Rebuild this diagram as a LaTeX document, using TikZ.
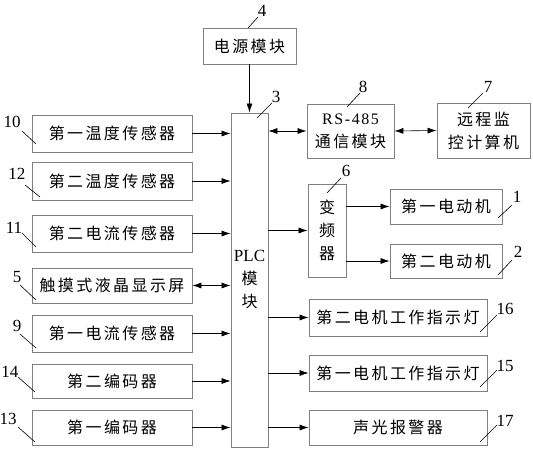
\documentclass[tikz,border=0pt]{standalone}
\usepackage{fontspec}
\setmainfont{Liberation Serif}
\newfontfamily\latn{Liberation Serif}[LetterSpace=10]
\newfontfamily\cjk{Noto Sans CJK SC}[LetterSpace=15]
\usetikzlibrary{arrows.meta}

\tikzset{
  blk/.style={draw=black!50, line width=0.9pt, inner sep=0pt, align=center,
    font=\cjk\fontsize{16}{23}\selectfont},
  lnk/.style={line width=0.6pt, -{Latex[length=9pt,width=6pt]}},
  dlnk/.style={line width=0.6pt, {Latex[length=9pt,width=6pt]}-{Latex[length=9pt,width=6pt]}},
  num/.style={inner sep=0pt, font=\fontsize{17}{17}\selectfont},
  lead/.style={line width=0.6pt},
}

\begin{document}
\begin{tikzpicture}[x=1pt,y=-1pt]
  \useasboundingbox (0,0) rectangle (533,450);
  % centre block
  \node[blk, minimum width=37, minimum height=334] (plc) at (249.5,280) {{\rmfamily\fontsize{17}{23}\selectfont PLC}\\模\\块};
  \node[blk, minimum width=93, minimum height=36] (pwr) at (249.5,46) {电源模块};
  % left column
  \node[blk, minimum width=160, minimum height=37] (t1) at (112,133.5) {第一温度传感器};
  \node[blk, minimum width=160, minimum height=38] (t2) at (112,181) {第二温度传感器};
  \node[blk, minimum width=160, minimum height=37] (c2) at (112,233.5) {第二电流传感器};
  \node[blk, minimum width=160, minimum height=35] (lcd) at (112,285.5) {触摸式液晶显示屏};
  \node[blk, minimum width=160, minimum height=37] (c1) at (112,333.5) {第一电流传感器};
  \node[blk, minimum width=160, minimum height=34] (e2) at (112,381) {第二编码器};
  \node[blk, minimum width=160, minimum height=35] (e1) at (112,427.5) {第一编码器};
  % right column
  \node[blk, minimum width=87, minimum height=54] (rs) at (350.5,131) {{\latn RS-485}\\通信模块};
  \node[blk, minimum width=93, minimum height=55] (pc) at (483.5,130.5) {远程监\\控计算机};
  \node[blk, minimum width=38, minimum height=93] (inv) at (327,230.5) {变\\频\\器};
  \node[blk, minimum width=112, minimum height=35] (m1) at (446,206.5) {第一电动机};
  \node[blk, minimum width=112, minimum height=34] (m2) at (446,261) {第二电动机};
  \node[blk, minimum width=178, minimum height=37] (l16) at (398,317.5) {第二电机工作指示灯};
  \node[blk, minimum width=178, minimum height=36] (l15) at (398,373) {第一电机工作指示灯};
  \node[blk, minimum width=178, minimum height=35] (l17) at (398,427.5) {声光报警器};
  % connectors
  \draw[lnk] (pwr.south) -- (pwr.south |- plc.north);
  \draw[lnk] (t1.east) -- (t1.east -| plc.west);
  \draw[lnk] (t2.east) -- (t2.east -| plc.west);
  \draw[lnk] (c2.east) -- (c2.east -| plc.west);
  \draw[dlnk] (lcd.east) -- (lcd.east -| plc.west);
  \draw[lnk] (c1.east) -- (c1.east -| plc.west);
  \draw[lnk] (e2.east) -- (e2.east -| plc.west);
  \draw[lnk] (e1.east) -- (e1.east -| plc.west);
  \draw[dlnk] (rs.west -| plc.east) -- (rs.west);
  \draw[dlnk] (rs.east) -- (pc.west);
  \draw[lnk] (inv.west -| plc.east) -- (inv.west);
  \draw[lnk] (m1.west -| inv.east) -- (m1.west);
  \draw[lnk] (m2.west -| inv.east) -- (m2.west);
  \draw[lnk] (l16.west -| plc.east) -- (l16.west);
  \draw[lnk] (l15.west -| plc.east) -- (l15.west);
  \draw[lnk] (l17.west -| plc.east) -- (l17.west);
  % reference numbers
  \node[num] (n4) at (262,11) {4};
  \draw[lead] (248,28) -- (258,17);
  \node[num] (n3) at (276,97) {3};
  \draw[lead] (257,118) -- (272,103);
  \node[num] (n8) at (363,87) {8};
  \draw[lead] (347,107) -- (360,93);
  \node[num] (n7) at (488,87) {7};
  \draw[lead] (468,108) -- (483,93);
  \node[num] (n6) at (346,171) {6};
  \draw[lead] (327,193) -- (341,178);
  \node[num] (n1) at (517,197) {1};
  \draw[lead] (498,218) -- (512,205);
  \node[num] (n2) at (518,252) {2};
  \draw[lead] (498,275) -- (512,260);
  \node[num] (n16) at (505,309) {16};
  \draw[lead] (480,332) -- (497,315);
  \node[num] (n15) at (505,366) {15};
  \draw[lead] (480,387) -- (497,370);
  \node[num] (n17) at (505,421) {17};
  \draw[lead] (480,442) -- (497,425);
  \node[num] (n10) at (12,122) {10};
  \draw[lead] (22,131) -- (36,144);
  \node[num] (n12) at (17,174) {12};
  \draw[lead] (25,185) -- (40,197);
  \node[num] (n11) at (14,228) {11};
  \draw[lead] (22,233) -- (36,247);
  \node[num] (n5) at (17,277) {5};
  \draw[lead] (20,285) -- (36,300);
  \node[num] (n9) at (17,326) {9};
  \draw[lead] (20,334) -- (36,348);
  \node[num] (n14) at (10,372) {14};
  \draw[lead] (18,377) -- (35,392);
  \node[num] (n13) at (8,419) {13};
  \draw[lead] (18,427) -- (35,442);
\end{tikzpicture}
\end{document}
